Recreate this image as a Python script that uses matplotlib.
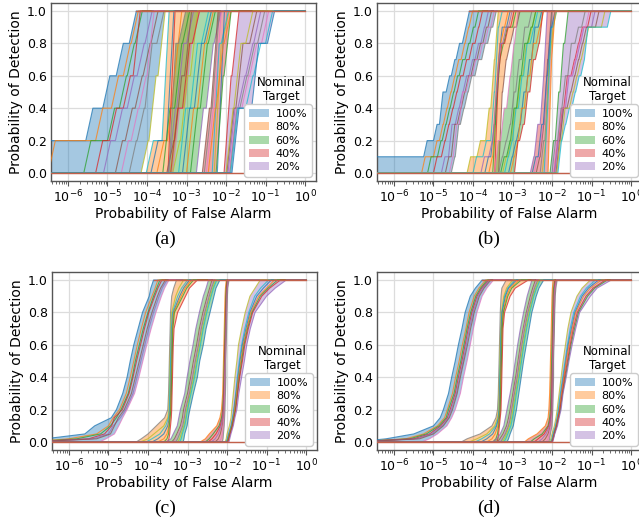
import numpy as np
import matplotlib.pyplot as plt
from matplotlib.patches import Patch
from matplotlib.ticker import LogLocator, NullFormatter

targets = ['100%', '80%', '60%', '40%', '20%']
target_colors = ['tab:blue', 'tab:orange', 'tab:green', 'tab:red', 'tab:purple']
x_ticks = [1e-6, 1e-5, 1e-4, 1e-3, 1e-2, 1e-1, 1e0]

X_START = 1e-7
X_END = 1.0

## (a) 5 positives per run: log10(Pfa) where the curve steps up one level
a_levels = [0.0, 0.2, 0.4, 0.6, 0.8, 1.0]
a_left = [
    [-7.0, -5.55, -5.12, -4.78, -4.45],
    [-4.02, -3.62, -3.5, -3.48, -3.47],
    [-3.45, -3.4, -3.35, -3.3, -3.2],
    [-2.6, -2.5, -2.38, -2.3, -2.25],
    [-2.05, -1.95, -1.88, -1.85, -1.82],
]
a_right = [
    [-4.15, -3.95, -3.8, -3.72, -3.55],
    [-3.35, -3.2, -3.05, -2.95, -2.85],
    [-2.75, -2.7, -2.5, -2.45, -2.3],
    [-2.25, -2.2, -2.15, -2.05, -2.0],
    [-1.85, -1.8, -1.35, -1.2, -0.95],
]
a_runs = [
    [[-6.5, -5.3, -4.9, -4.6, -4.4],
     [-5.6, -5.0, -4.7, -4.5, -4.3],
     [-5.3, -4.95, -4.6, -4.35, -4.2],
     [-5.1, -4.8, -4.5, -4.25, -4.05],
     [-4.8, -4.55, -4.3, -4.1, -3.9],
     [-4.65, -4.4, -4.2, -4.0, -3.85],
     [-4.45, -4.25, -4.05, -3.95, -3.75]],
    [[-3.9, -3.5, -3.47, -3.46, -3.45],
     [-3.75, -3.48, -3.4, -3.3, -3.2],
     [-3.6, -3.46, -3.3, -3.2, -3.1],
     [-3.47, -3.45, -3.44, -3.42, -3.4],
     [-3.46, -3.4, -3.25, -3.1, -3.0],
     [-3.5, -3.3, -3.2, -3.05, -2.95]],
    [[-3.35, -3.15, -3.0, -2.9, -2.75],
     [-3.2, -3.05, -2.9, -2.78, -2.62],
     [-3.1, -2.95, -2.8, -2.7, -2.55],
     [-3.0, -2.85, -2.72, -2.62, -2.5],
     [-2.9, -2.8, -2.65, -2.6, -2.45],
     [-3.4, -3.25, -3.1, -2.95, -2.85]],
    [[-2.5, -2.4, -2.3, -2.2, -2.15],
     [-2.55, -2.45, -2.35, -2.25, -2.18],
     [-2.3, -2.28, -2.22, -2.15, -2.1],
     [-2.35, -2.3, -2.25, -2.2, -2.12],
     [-2.22, -2.2, -2.18, -2.12, -2.08],
     [-2.45, -2.35, -2.25, -2.18, -2.05]],
    [[-1.95, -1.88, -1.7, -1.5, -1.3],
     [-1.98, -1.9, -1.75, -1.6, -1.4],
     [-1.92, -1.85, -1.6, -1.4, -1.1],
     [-1.9, -1.83, -1.65, -1.45, -1.2],
     [-2.0, -1.92, -1.8, -1.7, -1.5],
     [-1.88, -1.82, -1.5, -1.3, -1.0]],
]

## (b) 10 positives per run
b_levels = [0.0, 0.1, 0.2, 0.3, 0.4, 0.5, 0.6, 0.7, 0.8, 0.9, 1.0]
b_left = [
    [-7.0, -5.25, -5.0, -4.85, -4.8, -4.68, -4.55, -4.43, -4.27, -4.18],
    [-4.15, -3.9, -3.68, -3.62, -3.55, -3.5, -3.48, -3.45, -3.42, -3.4],
    [-3.45, -3.4, -3.3, -3.22, -3.15, -3.1, -3.05, -3.0, -2.95, -2.9],
    [-2.55, -2.45, -2.38, -2.3, -2.26, -2.24, -2.21, -2.19, -2.16, -2.13],
    [-2.05, -1.97, -1.92, -1.88, -1.84, -1.8, -1.76, -1.72, -1.68, -1.64],
]
b_right = [
    [-4.55, -4.45, -4.4, -4.32, -4.22, -4.12, -3.95, -3.78, -3.63, -3.5],
    [-3.35, -3.33, -3.31, -3.3, -3.28, -3.25, -3.2, -3.15, -3.05, -2.9],
    [-2.95, -2.9, -2.82, -2.7, -2.62, -2.56, -2.5, -2.42, -2.32, -2.25],
    [-2.1, -2.08, -2.07, -2.06, -2.05, -2.04, -2.03, -2.01, -1.98, -1.95],
    [-1.85, -1.8, -1.75, -1.65, -1.5, -1.4, -1.27, -1.18, -1.1, -0.6],
]
b_runs = [
    [[-5.3, -5.0, -4.85, -4.75, -4.65, -4.55, -4.45, -4.3, -4.2, -4.1],
     [-5.15, -4.9, -4.78, -4.68, -4.58, -4.48, -4.35, -4.2, -4.08, -3.95],
     [-5.0, -4.8, -4.7, -4.6, -4.5, -4.4, -4.25, -4.1, -3.95, -3.85],
     [-4.8, -4.62, -4.55, -4.45, -4.35, -4.25, -4.1, -3.95, -3.8, -3.7],
     [-4.7, -4.55, -4.5, -4.4, -4.3, -4.2, -4.05, -3.9, -3.75, -3.62],
     [-4.6, -4.5, -4.45, -4.35, -4.28, -4.18, -4.02, -3.85, -3.7, -3.55]],
    [[-4.0, -3.75, -3.55, -3.5, -3.47, -3.45, -3.44, -3.42, -3.4, -3.35],
     [-3.7, -3.55, -3.47, -3.44, -3.42, -3.4, -3.38, -3.35, -3.28, -3.15],
     [-3.6, -3.5, -3.45, -3.43, -3.42, -3.41, -3.4, -3.38, -3.3, -3.2],
     [-3.5, -3.46, -3.44, -3.42, -3.41, -3.39, -3.37, -3.32, -3.22, -3.0],
     [-3.45, -3.43, -3.41, -3.4, -3.39, -3.38, -3.36, -3.3, -3.2, -3.05],
     [-3.8, -3.6, -3.5, -3.45, -3.42, -3.4, -3.37, -3.33, -3.25, -3.1]],
    [[-3.35, -3.25, -3.15, -3.05, -2.98, -2.92, -2.85, -2.78, -2.7, -2.6],
     [-3.25, -3.12, -3.02, -2.95, -2.88, -2.8, -2.74, -2.68, -2.6, -2.5],
     [-3.2, -3.1, -3.0, -2.92, -2.85, -2.78, -2.72, -2.65, -2.55, -2.45],
     [-3.1, -3.0, -2.9, -2.8, -2.72, -2.66, -2.6, -2.52, -2.45, -2.35],
     [-3.05, -2.95, -2.86, -2.78, -2.7, -2.62, -2.56, -2.48, -2.4, -2.3],
     [-3.3, -3.15, -3.05, -2.98, -2.9, -2.84, -2.78, -2.7, -2.62, -2.5]],
    [[-2.4, -2.3, -2.25, -2.2, -2.17, -2.14, -2.12, -2.1, -2.07, -2.03],
     [-2.45, -2.32, -2.26, -2.21, -2.17, -2.14, -2.11, -2.08, -2.05, -2.0],
     [-2.3, -2.22, -2.18, -2.15, -2.13, -2.11, -2.09, -2.07, -2.04, -2.0],
     [-2.25, -2.2, -2.16, -2.14, -2.12, -2.1, -2.08, -2.06, -2.02, -1.97],
     [-2.2, -2.17, -2.15, -2.13, -2.11, -2.09, -2.08, -2.06, -2.03, -1.98],
     [-2.5, -2.35, -2.28, -2.22, -2.18, -2.15, -2.12, -2.09, -2.05, -2.01]],
    [[-1.95, -1.88, -1.83, -1.78, -1.7, -1.62, -1.52, -1.42, -1.32, -1.1],
     [-1.93, -1.86, -1.8, -1.74, -1.66, -1.58, -1.48, -1.38, -1.28, -1.0],
     [-1.9, -1.84, -1.8, -1.72, -1.62, -1.52, -1.42, -1.32, -1.22, -0.9],
     [-1.96, -1.9, -1.84, -1.76, -1.68, -1.6, -1.5, -1.4, -1.3, -1.15],
     [-2.0, -1.92, -1.86, -1.8, -1.75, -1.68, -1.6, -1.52, -1.42, -1.25],
     [-1.88, -1.82, -1.76, -1.68, -1.56, -1.46, -1.36, -1.26, -1.16, -0.75]],
]

## (c) and (d): many positives, log10(Pfa) read at these Pd values
cd_pd = [0.0, 0.02, 0.05, 0.1, 0.15, 0.2, 0.3, 0.4, 0.5, 0.6, 0.7, 0.8, 0.9, 0.95, 1.0]

c_left = [
    [-7.0, -6.6, -5.6, -5.35, -4.93, -4.8, -4.64, -4.53, -4.45, -4.36, -4.25, -4.14, -3.97, -3.93, -3.86],
    [-4.3, -4.17, -4.0, -3.79, -3.58, -3.5, -3.48, -3.47, -3.46, -3.45, -3.44, -3.43, -3.4, -3.35, -3.28],
    [-3.55, -3.42, -3.36, -3.26, -3.22, -3.18, -3.07, -3.01, -2.94, -2.86, -2.79, -2.7, -2.6, -2.53, -2.47],
    [-2.68, -2.55, -2.45, -2.26, -2.18, -2.14, -2.11, -2.1, -2.09, -2.08, -2.07, -2.06, -2.05, -2.04, -2.02],
    [-2.05, -2.02, -2.0, -1.94, -1.9, -1.88, -1.84, -1.8, -1.75, -1.71, -1.63, -1.54, -1.42, -1.29, -1.16],
]
c_right = [
    [-5.23, -5.06, -4.85, -4.74, -4.64, -4.53, -4.34, -4.23, -4.13, -4.03, -3.92, -3.8, -3.66, -3.58, -3.47],
    [-3.5, -3.47, -3.45, -3.43, -3.41, -3.4, -3.39, -3.38, -3.37, -3.36, -3.34, -3.25, -3.05, -2.95, -2.75],
    [-3.11, -3.09, -3.07, -3.01, -2.98, -2.94, -2.85, -2.75, -2.69, -2.6, -2.53, -2.43, -2.33, -2.28, -2.18],
    [-2.12, -2.1, -2.09, -2.07, -2.06, -2.05, -2.04, -2.03, -2.03, -2.02, -2.01, -2.0, -1.99, -1.98, -1.95],
    [-1.95, -1.93, -1.9, -1.84, -1.8, -1.75, -1.7, -1.63, -1.56, -1.5, -1.41, -1.29, -1.0, -0.78, -0.5],
]
c_runs = [
    [[-7.0, -6.0, -5.3, -5.0, -4.88, -4.72, -4.55, -4.45, -4.36, -4.27, -4.17, -4.06, -3.9, -3.82, -3.75],
     [-7.0, -5.8, -5.2, -4.95, -4.8, -4.68, -4.5, -4.4, -4.32, -4.22, -4.12, -4.0, -3.86, -3.78, -3.7],
     [-7.0, -5.5, -5.1, -4.92, -4.85, -4.65, -4.48, -4.38, -4.29, -4.19, -4.09, -3.98, -3.83, -3.75, -3.65],
     [-7.0, -5.4, -5.0, -4.88, -4.7, -4.56, -4.38, -4.28, -4.18, -4.08, -3.98, -3.86, -3.72, -3.64, -3.52],
     [-7.0, -5.3, -4.95, -4.85, -4.75, -4.6, -4.42, -4.32, -4.22, -4.12, -4.02, -3.9, -3.76, -3.68, -3.56]],
    [[-4.2, -4.0, -3.85, -3.6, -3.5, -3.47, -3.46, -3.45, -3.44, -3.43, -3.42, -3.4, -3.3, -3.22, -3.1],
     [-4.05, -3.9, -3.7, -3.55, -3.48, -3.46, -3.45, -3.44, -3.43, -3.42, -3.41, -3.38, -3.25, -3.15, -3.0],
     [-3.9, -3.75, -3.6, -3.5, -3.46, -3.44, -3.43, -3.42, -3.41, -3.4, -3.39, -3.36, -3.2, -3.1, -2.95],
     [-3.75, -3.6, -3.52, -3.47, -3.45, -3.43, -3.42, -3.41, -3.4, -3.39, -3.38, -3.35, -3.16, -3.06, -2.9],
     [-3.6, -3.52, -3.48, -3.46, -3.44, -3.42, -3.41, -3.4, -3.39, -3.38, -3.37, -3.33, -3.12, -3.02, -2.85]],
    [[-3.4, -3.33, -3.27, -3.18, -3.13, -3.1, -3.0, -2.92, -2.85, -2.77, -2.7, -2.61, -2.5, -2.44, -2.38],
     [-3.35, -3.29, -3.24, -3.15, -3.1, -3.07, -2.97, -2.89, -2.82, -2.74, -2.67, -2.58, -2.47, -2.41, -2.35],
     [-3.3, -3.25, -3.2, -3.12, -3.08, -3.05, -2.95, -2.87, -2.8, -2.72, -2.65, -2.56, -2.45, -2.39, -2.32],
     [-3.25, -3.2, -3.16, -3.09, -3.05, -3.02, -2.93, -2.84, -2.77, -2.69, -2.62, -2.53, -2.42, -2.36, -2.29],
     [-3.2, -3.16, -3.13, -3.07, -3.03, -3.0, -2.91, -2.82, -2.75, -2.67, -2.6, -2.51, -2.4, -2.34, -2.26]],
    [[-2.55, -2.45, -2.35, -2.2, -2.14, -2.11, -2.09, -2.08, -2.07, -2.06, -2.05, -2.04, -2.03, -2.02, -2.0],
     [-2.48, -2.38, -2.28, -2.17, -2.12, -2.1, -2.08, -2.07, -2.06, -2.05, -2.04, -2.03, -2.02, -2.01, -1.99],
     [-2.4, -2.3, -2.22, -2.15, -2.11, -2.09, -2.07, -2.06, -2.05, -2.04, -2.03, -2.02, -2.01, -2.0, -1.98],
     [-2.3, -2.22, -2.17, -2.12, -2.09, -2.08, -2.06, -2.05, -2.05, -2.04, -2.03, -2.02, -2.01, -2.0, -1.98],
     [-2.2, -2.15, -2.12, -2.1, -2.08, -2.07, -2.06, -2.05, -2.04, -2.03, -2.02, -2.01, -2.0, -1.99, -1.97]],
    [[-2.02, -1.99, -1.96, -1.9, -1.86, -1.83, -1.78, -1.74, -1.69, -1.63, -1.55, -1.45, -1.3, -1.15, -0.95],
     [-2.01, -1.98, -1.95, -1.89, -1.85, -1.82, -1.77, -1.72, -1.67, -1.61, -1.52, -1.42, -1.25, -1.08, -0.88],
     [-2.0, -1.97, -1.94, -1.88, -1.84, -1.81, -1.76, -1.71, -1.65, -1.59, -1.5, -1.4, -1.2, -1.0, -0.8],
     [-1.99, -1.96, -1.93, -1.87, -1.83, -1.79, -1.74, -1.69, -1.63, -1.57, -1.48, -1.37, -1.16, -0.96, -0.72],
     [-1.98, -1.95, -1.92, -1.86, -1.82, -1.78, -1.73, -1.68, -1.61, -1.55, -1.46, -1.35, -1.12, -0.92, -0.65]],
]

d_left = [
    [-7.0, -6.2, -5.5, -5.0, -4.83, -4.75, -4.62, -4.54, -4.45, -4.37, -4.28, -4.2, -4.07, -3.94, -3.77],
    [-4.3, -4.15, -3.82, -3.52, -3.42, -3.38, -3.36, -3.35, -3.34, -3.33, -3.32, -3.31, -3.29, -3.27, -3.16],
    [-3.5, -3.4, -3.31, -3.22, -3.18, -3.14, -3.06, -2.99, -2.93, -2.87, -2.8, -2.72, -2.63, -2.57, -2.51],
    [-2.7, -2.6, -2.38, -2.17, -2.1, -2.08, -2.06, -2.05, -2.04, -2.03, -2.02, -2.01, -2.0, -1.99, -1.97],
    [-2.06, -2.03, -2.0, -1.94, -1.9, -1.87, -1.82, -1.77, -1.72, -1.66, -1.6, -1.52, -1.37, -1.24, -1.03],
]
d_right = [
    [-5.3, -5.1, -4.9, -4.66, -4.54, -4.45, -4.32, -4.24, -4.15, -4.07, -3.99, -3.9, -3.77, -3.65, -3.48],
    [-3.39, -3.37, -3.35, -3.33, -3.31, -3.29, -3.28, -3.27, -3.26, -3.25, -3.24, -3.2, -3.06, -2.93, -2.6],
    [-3.14, -3.1, -3.06, -2.98, -2.94, -2.9, -2.84, -2.78, -2.72, -2.65, -2.58, -2.51, -2.4, -2.33, -2.21],
    [-2.08, -2.06, -2.04, -2.0, -1.99, -1.98, -1.97, -1.96, -1.96, -1.95, -1.94, -1.93, -1.92, -1.9, -1.87],
    [-1.98, -1.96, -1.93, -1.86, -1.82, -1.77, -1.72, -1.64, -1.57, -1.49, -1.4, -1.3, -1.03, -0.86, -0.5],
]
d_runs = [
    [[-7.0, -5.7, -5.25, -4.9, -4.72, -4.65, -4.52, -4.44, -4.35, -4.27, -4.18, -4.1, -3.97, -3.85, -3.68],
     [-7.0, -5.6, -5.18, -4.86, -4.68, -4.62, -4.48, -4.4, -4.31, -4.23, -4.15, -4.06, -3.93, -3.81, -3.64],
     [-7.0, -5.5, -5.1, -4.82, -4.65, -4.58, -4.45, -4.37, -4.28, -4.2, -4.12, -4.03, -3.9, -3.78, -3.6],
     [-7.0, -5.42, -5.05, -4.78, -4.62, -4.55, -4.42, -4.34, -4.25, -4.17, -4.09, -4.0, -3.87, -3.75, -3.58],
     [-7.0, -5.35, -5.0, -4.75, -4.6, -4.52, -4.4, -4.32, -4.23, -4.14, -4.06, -3.97, -3.84, -3.72, -3.55]],
    [[-4.1, -3.9, -3.65, -3.45, -3.38, -3.35, -3.34, -3.33, -3.32, -3.31, -3.3, -3.28, -3.22, -3.15, -3.0],
     [-3.95, -3.78, -3.58, -3.42, -3.36, -3.34, -3.33, -3.32, -3.31, -3.3, -3.29, -3.27, -3.2, -3.12, -2.95],
     [-3.8, -3.65, -3.5, -3.4, -3.35, -3.33, -3.32, -3.31, -3.3, -3.29, -3.28, -3.26, -3.18, -3.1, -2.9],
     [-3.65, -3.52, -3.44, -3.37, -3.34, -3.32, -3.31, -3.3, -3.29, -3.28, -3.27, -3.24, -3.15, -3.06, -2.84],
     [-3.5, -3.42, -3.38, -3.35, -3.33, -3.31, -3.3, -3.29, -3.28, -3.27, -3.26, -3.23, -3.12, -3.02, -2.78]],
    [[-3.38, -3.32, -3.24, -3.15, -3.1, -3.06, -2.99, -2.92, -2.86, -2.8, -2.73, -2.65, -2.55, -2.49, -2.42],
     [-3.34, -3.28, -3.21, -3.12, -3.07, -3.04, -2.97, -2.9, -2.84, -2.78, -2.71, -2.63, -2.52, -2.46, -2.39],
     [-3.3, -3.25, -3.18, -3.1, -3.05, -3.02, -2.95, -2.88, -2.82, -2.76, -2.69, -2.61, -2.5, -2.44, -2.36],
     [-3.26, -3.21, -3.15, -3.07, -3.02, -2.99, -2.92, -2.85, -2.79, -2.73, -2.66, -2.58, -2.48, -2.41, -2.33],
     [-3.22, -3.17, -3.12, -3.04, -3.0, -2.96, -2.9, -2.83, -2.77, -2.71, -2.64, -2.56, -2.46, -2.39, -2.3]],
    [[-2.55, -2.45, -2.25, -2.1, -2.06, -2.04, -2.03, -2.02, -2.01, -2.0, -1.99, -1.98, -1.97, -1.96, -1.93],
     [-2.45, -2.35, -2.2, -2.08, -2.04, -2.02, -2.01, -2.0, -1.99, -1.98, -1.97, -1.96, -1.95, -1.94, -1.92],
     [-2.35, -2.25, -2.15, -2.06, -2.03, -2.01, -2.0, -1.99, -1.98, -1.97, -1.96, -1.95, -1.94, -1.93, -1.9],
     [-2.25, -2.17, -2.1, -2.04, -2.02, -2.0, -1.99, -1.98, -1.97, -1.96, -1.95, -1.94, -1.93, -1.92, -1.9],
     [-2.15, -2.1, -2.07, -2.03, -2.01, -1.99, -1.98, -1.97, -1.97, -1.96, -1.95, -1.94, -1.93, -1.92, -1.89]],
    [[-2.03, -2.0, -1.97, -1.91, -1.87, -1.84, -1.79, -1.73, -1.67, -1.61, -1.54, -1.45, -1.28, -1.13, -0.9],
     [-2.02, -1.99, -1.96, -1.9, -1.86, -1.82, -1.77, -1.71, -1.65, -1.59, -1.51, -1.42, -1.24, -1.08, -0.82],
     [-2.01, -1.98, -1.95, -1.89, -1.85, -1.81, -1.76, -1.7, -1.64, -1.57, -1.49, -1.4, -1.2, -1.03, -0.75],
     [-2.0, -1.97, -1.94, -1.88, -1.83, -1.79, -1.73, -1.66, -1.59, -1.52, -1.43, -1.33, -1.1, -0.92, -0.6],
     [-2.0, -1.97, -1.94, -1.88, -1.84, -1.8, -1.74, -1.68, -1.61, -1.54, -1.46, -1.36, -1.14, -0.96, -0.65]],
]


def step_path(jumps, levels, slant):
    # jumps closer together than the slant are drawn as one steeper rise
    xs, ys = [np.log10(X_START)], [levels[0]]
    k = 0
    while k < len(jumps):
        start = max(jumps[k], xs[-1])
        m = k
        while m + 1 < len(jumps) and jumps[m + 1] < start + slant:
            m += 1
        xs += [start, start + slant]
        ys += [levels[k], levels[m + 1]]
        k = m + 1
    xs.append(np.log10(X_END))
    ys.append(levels[-1])
    return 10 ** np.array(xs), np.array(ys)


def smooth_path(vals, levels, slant):
    xs = np.concatenate([[X_START], 10 ** np.array(vals), [X_END]])
    ys = np.concatenate([[levels[0]], levels, [levels[-1]]])
    return xs, ys


def draw_panel(ax, levels, left, right, runs, slant, path):
    for i in range(len(targets)):
        lx, ly = path(left[i], levels, slant)
        rx, ry = path(right[i], levels, slant)
        px = np.concatenate([lx[1:-1], rx[1:-1][::-1]])
        py = np.concatenate([ly[1:-1], ry[1:-1][::-1]])
        ax.fill(px, py, color=target_colors[i], alpha=0.4, lw=0, zorder=2)
    for i in range(len(targets)):
        for run in [left[i]] + runs[i] + [right[i]]:
            x, y = path(run, levels, slant)
            ax.plot(x, y, lw=0.8, alpha=0.75, zorder=3)
    top_x, _ = path(left[0], levels, slant)
    ax.plot([X_START, X_END], [0, 0], color='#c2604a', lw=1.0, zorder=3)
    ax.plot([top_x[-2], X_END], [1, 1], color='#c2604a', lw=1.0, zorder=3)


fig = plt.figure(figsize=(6.39, 5.31), dpi=100)

rects = [
    [51 / 639, 0.659, 265 / 639, 0.3356],
    [377 / 639, 0.659, 265 / 639, 0.3356],
    [52 / 639, 0.1523, 265 / 639, 0.3356],
    [377 / 639, 0.1523, 265 / 639, 0.3356],
]
panel_data = [
    (a_levels, a_left, a_right, a_runs, 0.18, step_path),
    (b_levels, b_left, b_right, b_runs, 0.09, step_path),
    (cd_pd, c_left, c_right, c_runs, 0.0, smooth_path),
    (cd_pd, d_left, d_right, d_runs, 0.0, smooth_path),
]
captions = ['(a)', '(b)', '(c)', '(d)']
caption_pos = [(0.258, 0.55), (0.764, 0.55), (0.258, 0.0433), (0.764, 0.0433)]

legends = []
for rect, data, cap, cpos in zip(rects, panel_data, captions, caption_pos):
    ax = fig.add_axes(rect)
    draw_panel(ax, *data)
    ax.set_xscale('log')
    ax.set_xticks(x_ticks)
    ax.xaxis.set_minor_locator(LogLocator(base=10, subs=np.arange(2, 10), numticks=100))
    ax.xaxis.set_minor_formatter(NullFormatter())
    ax.set_xlim(10 ** -6.43, 10 ** 0.278)
    ax.set_ylim(-0.05, 1.05)
    ax.set_yticks([0.0, 0.2, 0.4, 0.6, 0.8, 1.0])
    ax.grid(True, which='major', color='#dcdcdc', lw=0.9, zorder=0)
    ax.set_axisbelow(True)
    for s in ax.spines.values():
        s.set_color('#555555')
        s.set_linewidth(1.0)
    ax.tick_params(axis='y', length=0, labelsize=9, pad=3)
    ax.tick_params(axis='x', which='major', length=3.5, width=0.8, color='#555555', labelsize=9, pad=2)
    ax.tick_params(axis='x', which='minor', length=2, width=0.6, color='#555555')
    ax.set_xlabel('Probability of False Alarm', fontsize=10, labelpad=1)
    ax.set_ylabel('Probability of Detection', fontsize=10, labelpad=3)

    handles = [Patch(facecolor=c, alpha=0.4, label=t) for c, t in zip(target_colors, targets)]
    leg = ax.legend(handles=handles, loc='lower right', fontsize=8, labelspacing=0.3,
                    borderpad=0.4, handlelength=1.8, handletextpad=0.6, borderaxespad=0.4,
                    framealpha=1.0, edgecolor='#cccccc', fancybox=True)
    leg.set_zorder(5)
    legends.append(leg)

    fig.text(cpos[0], cpos[1], cap, ha='center', va='center', fontsize=14,
             family=['Liberation Serif', 'DejaVu Serif'])

fig.canvas.draw()
inv = fig.transFigure.inverted()
for leg in legends:
    bb = leg.get_frame().get_window_extent()
    (x0, y0), (x1, y1) = inv.transform([[bb.x0, bb.y0], [bb.x1, bb.y1]])
    fig.text((x0 + x1) / 2 + 0.006, y1 + 0.003, 'Nominal\nTarget', ha='center', va='bottom',
             fontsize=8.5, multialignment='center', linespacing=1.1)

fig.savefig('out.png', dpi=100)
